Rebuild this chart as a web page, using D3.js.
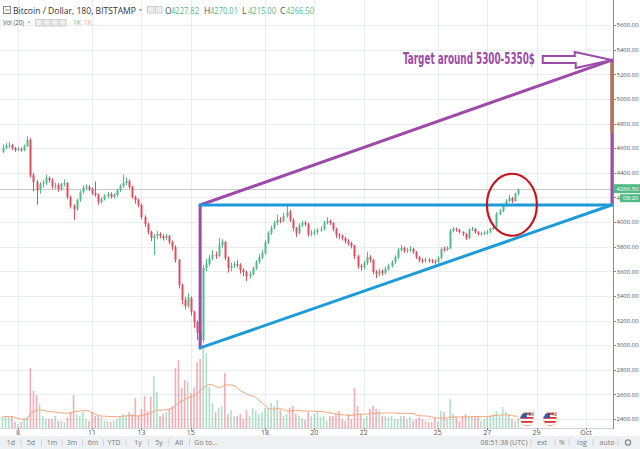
<!DOCTYPE html>
<html><head><meta charset="utf-8">
<script src="https://cdn.jsdelivr.net/npm/d3@7"></script>
<style>body{margin:0;background:#fff;} svg{display:block;font-family:"Open Sans",sans-serif;}</style>
</head><body><svg id="c" width="640" height="449"></svg>
<script>
// ---------- DATA ----------
const firstCandleUTC = Date.UTC(2017, 8, 7, 9); // 180-minute candles
const opens = [
4570,4600,4617,4625,4600,4584,4592,4584,4617,4666,
4381,4324,4259,4308,4316,4357,4341,4292,4300,4268,
4308,4316,4203,4130,4105,4178,4243,4276,4284,4268,
4235,4219,4162,4186,4211,4227,4203,4219,4259,4292,
4316,4333,4284,4203,4178,4138,4040,3983,3918,3870,
3886,3902,3886,3870,3886,3837,3797,3691,3488,3366,
3318,3383,3269,3188,3098,3041,3626,3659,3707,3732,
3725,3813,3837,3707,3626,3642,3659,3650,3610,3594,
3561,3577,3626,3675,3715,3748,3837,3910,3951,3992,
4016,4010,4048,4081,4016,3951,3910,3975,3992,3985,
3902,3910,3918,3935,3943,3992,4008,3992,3943,3894,
3886,3870,3845,3829,3805,3724,3642,3634,3667,3715,
3691,3594,3577,3602,3586,3618,3642,3675,3715,3772,
3789,3765,3772,3780,3756,3715,3691,3683,3695,3688,
3680,3675,3707,3780,3775,3789,3927,3943,3935,3918,
3902,3870,3935,3943,3918,3902,3908,3912,3920,3943,
3959,4065,4089,4130,4170,4195,4170,4227.82];
const highs = [
4630,4640,4650,4635,4610,4610,4605,4630,4695,4680,
4400,4340,4325,4340,4385,4370,4355,4320,4315,4320,
4345,4325,4215,4145,4190,4255,4300,4305,4300,4280,
4330,4230,4200,4225,4245,4240,4235,4270,4305,4385,
4360,4345,4295,4215,4190,4150,4055,3995,3930,3900,
3925,3915,3900,3905,3895,3850,3810,3700,3500,3390,
3420,3395,3280,3200,3110,3650,3700,3730,3770,3760,
3870,3860,3845,3720,3670,3680,3690,3665,3625,3605,
3600,3640,3690,3740,3770,3850,3925,3970,4010,4060,
4040,4075,4130,4100,4030,3960,3990,4010,4010,3995,
3935,3940,3950,3965,4010,4040,4020,4000,3955,3910,
3900,3880,3860,3840,3815,3735,3660,3685,3760,3730,
3700,3610,3620,3615,3635,3660,3690,3730,3790,3815,
3800,3790,3805,3790,3765,3725,3705,3710,3705,3700,
3695,3720,3795,3800,3805,3945,3960,3955,3945,3925,
3910,3950,3960,3950,3925,3920,3925,3935,3955,3975,
4080,4105,4145,4185,4220,4205,4240,4270.01];
const lows = [
4560,4590,4600,4585,4570,4575,4570,4575,4610,4360,
4250,4140,4230,4280,4300,4320,4270,4270,4245,4255,
4290,4185,4110,4016,4090,4165,4230,4260,4250,4220,
4205,4140,4150,4175,4195,4190,4190,4205,4245,4280,
4300,4270,4190,4150,4120,4020,3960,3900,3845,3730,
3860,3865,3850,3855,3820,3770,3670,3460,3330,3290,
3300,3240,3140,3040,2972,3020,3600,3640,3690,3700,
3715,3790,3690,3590,3600,3625,3630,3580,3560,3520,
3540,3565,3610,3660,3700,3735,3820,3895,3940,3975,
3990,4000,4035,4000,3925,3880,3900,3960,3965,3880,
3885,3890,3900,3920,3930,3980,3975,3925,3870,3860,
3850,3825,3810,3785,3700,3620,3605,3615,3650,3670,
3575,3545,3560,3565,3575,3605,3630,3660,3700,3760,
3750,3750,3755,3740,3700,3675,3665,3670,3670,3665,
3655,3660,3695,3760,3765,3780,3915,3920,3905,3885,
3855,3860,3925,3905,3890,3890,3895,3900,3910,3935,
3950,4055,4080,4120,4160,4155,4165,4215];
const closes = [
4600,4617,4625,4600,4584,4592,4584,4617,4666,4381,
4324,4259,4308,4316,4357,4341,4292,4300,4268,4308,
4316,4203,4130,4105,4178,4243,4276,4284,4268,4235,
4219,4162,4186,4211,4227,4203,4219,4259,4292,4316,
4333,4284,4203,4178,4138,4040,3983,3918,3870,3886,
3902,3886,3870,3886,3837,3797,3691,3488,3366,3318,
3383,3269,3188,3098,3041,3626,3659,3707,3732,3725,
3813,3837,3707,3626,3642,3659,3650,3610,3594,3561,
3577,3626,3675,3715,3748,3837,3910,3951,3992,4016,
4010,4048,4081,4016,3951,3910,3975,3992,3985,3902,
3910,3918,3935,3943,3992,4008,3992,3943,3894,3886,
3870,3845,3829,3805,3724,3642,3634,3667,3715,3691,
3594,3577,3602,3586,3618,3642,3675,3715,3772,3789,
3765,3772,3780,3756,3715,3691,3683,3695,3688,3680,
3675,3707,3780,3775,3789,3927,3943,3935,3918,3902,
3870,3935,3943,3918,3902,3908,3912,3920,3943,3959,
4065,4089,4130,4170,4195,4170,4227.82,4266.50];
const volumes = [
1100,1200,1100,1200,600,400,600,900,1100,6000,
3700,3300,2400,1200,900,900,900,1200,700,700,
600,1100,1600,3300,1400,1200,1600,900,700,1600,
1200,1200,1100,700,700,600,700,900,1200,1400,
1200,1600,1400,3000,1200,1900,3200,1700,3100,5200,
3600,1200,1400,1600,1900,2200,6000,6800,4000,4800,
4600,3500,4000,6600,6900,8000,7500,4100,2500,1600,
2000,2200,5500,1400,1800,1200,1200,1400,900,1800,
1200,2000,1700,1400,1600,2000,2000,2500,2200,2800,
1800,1200,1400,2000,2200,1400,1200,1000,800,1600,
1200,1400,1600,1100,1200,700,1200,1200,1400,1700,
900,700,1400,900,4000,2200,1400,900,1200,1900,
2200,1900,1700,1200,1200,1100,1200,900,900,1200,
1200,900,1100,700,900,1100,900,700,600,600,
1100,700,1700,1600,900,2900,1400,1100,700,1200,
1400,1100,1200,1100,1100,700,900,1100,1200,1400,
1700,1200,2100,1600,1400,900,700,1000];
const priceTicks = [2400,2600,2800,3000,3200,3400,3600,3800,4000,4200,4400,4600,4800,5000,5200,5400,5600];
const dayTickDates = ["2017-09-08","2017-09-11","2017-09-13","2017-09-15","2017-09-18","2017-09-20","2017-09-22","2017-09-25","2017-09-27","2017-09-29","2017-10-01"];
const dayTickLabels = ["8","11","13","15","18","20","22","25","27","29","Oct"];
// annotation (drawn by the author) in data coordinates
const patternStart = "2017-09-15T09:00Z", patternApex = "2017-10-02T01:00Z";
const supportLow = 2977, resistance = 4138, targetLevel = 5315;
const eventFlags = [{t:"2017-09-28T14:30Z", n:"36"},{t:"2017-09-29T13:00Z", n:"16"}];
const rangeButtons = ["1d","5d","1m","3m","6m","YTD","1y","5y","All","Go to..."];

// ---------- CHART ----------
const svg = d3.select("#c");
const plotRight = 613, plotBottom = 428;
const up = "#53b987", down = "#e54c5e";
const x = d3.scaleUtc().domain([new Date("2017-09-08T00:00Z"), new Date("2017-10-01T00:00Z")]).range([18, 586]);
const y = d3.scaleLinear().domain([2400, 5600]).range([419, 25]);
const yv = d3.scaleLinear().domain([0, 9000]).range([plotBottom, 338]);

const candles = closes.map((c, i) => ({
  t: new Date(firstCandleUTC + i * 3 * 3600e3), o: opens[i], h: highs[i], l: lows[i], c, v: volumes[i]
}));

svg.append("rect").attr("width", 640).attr("height", 449).attr("fill", "#fff");
const defs = svg.append("defs");
defs.append("clipPath").attr("id", "plot").append("rect").attr("width", plotRight).attr("height", plotBottom);

const g = svg.append("g").attr("clip-path", "url(#plot)");
g.selectAll(".hg").data(priceTicks).join("line")
  .attr("x1", 0).attr("x2", plotRight)
  .attr("y1", d => Math.round(y(d)) + 0.5).attr("y2", d => Math.round(y(d)) + 0.5)
  .attr("stroke", "#e9edf0");
g.selectAll(".vg").data(dayTickDates).join("line")
  .attr("x1", d => Math.round(x(new Date(d))) + 0.5).attr("x2", d => Math.round(x(new Date(d))) + 0.5)
  .attr("y1", 0).attr("y2", plotBottom).attr("stroke", "#e9edf0");

const last = candles[candles.length - 1];
g.append("line").attr("x1", 0).attr("x2", plotRight)
  .attr("y1", Math.round(y(last.c)) + 0.5).attr("y2", Math.round(y(last.c)) + 0.5)
  .attr("stroke", "#c8c8c8");

// volume
g.selectAll(".vol").data(candles).join("rect")
  .attr("x", d => x(d.t) - 0.8).attr("width", 1.6)
  .attr("y", d => yv(d.v)).attr("height", d => plotBottom - yv(d.v))
  .attr("fill", d => d.c >= d.o ? up : down).attr("opacity", 0.45);
const ma = candles.map((d, i) => {
  const s = candles.slice(Math.max(0, i - 19), i + 1);
  return { t: d.t, v: d3.mean(s, e => e.v) };
});
g.append("path").datum(ma).attr("fill", "none").attr("stroke", "#f2a77a").attr("stroke-width", 1)
  .attr("d", d3.line().x(d => x(d.t)).y(d => yv(d.v)));

// candles
const cg = g.append("g");
cg.selectAll(".wick").data(candles).join("line")
  .attr("x1", d => Math.round(x(d.t)) + 0.5).attr("x2", d => Math.round(x(d.t)) + 0.5)
  .attr("y1", d => y(d.h)).attr("y2", d => y(d.l))
  .attr("stroke", d => d.c >= d.o ? up : down).attr("stroke-width", 1);
cg.selectAll(".body").data(candles).join("rect")
  .attr("x", d => Math.round(x(d.t)) - 0.5).attr("width", 2)
  .attr("y", d => y(Math.max(d.o, d.c)))
  .attr("height", d => Math.max(1, Math.abs(y(d.o) - y(d.c))))
  .attr("fill", d => d.c >= d.o ? up : down);

// ---------- ANNOTATIONS ----------
const purple = "#9d4aa8", blue = "#1d9bd8";
const t0 = new Date(patternStart), t1 = new Date(patternApex);
const ag = svg.append("g").attr("fill", "none").attr("stroke-linecap", "round");
ag.append("line").attr("x1", x(t0)).attr("y1", y(supportLow)).attr("x2", x(t0)).attr("y2", y(resistance))
  .attr("stroke", purple).attr("stroke-width", 3);
ag.append("line").attr("x1", x(t0)).attr("y1", y(resistance)).attr("x2", x(t1)).attr("y2", y(targetLevel))
  .attr("stroke", purple).attr("stroke-width", 3);
ag.append("line").attr("x1", x(t1)).attr("y1", y(targetLevel)).attr("x2", x(t1)).attr("y2", y(resistance))
  .attr("stroke", purple).attr("stroke-width", 2.5);
ag.append("line").attr("x1", x(t1)).attr("y1", y(targetLevel - 20)).attr("x2", x(t1)).attr("y2", y(4720))
  .attr("stroke", "#b8744e").attr("stroke-width", 2.5).attr("stroke-linecap", "butt");
ag.append("line").attr("x1", x(t0)).attr("y1", y(resistance)).attr("x2", x(t1)).attr("y2", y(resistance))
  .attr("stroke", blue).attr("stroke-width", 3);
ag.append("line").attr("x1", x(t0)).attr("y1", y(supportLow)).attr("x2", x(t1)).attr("y2", y(resistance))
  .attr("stroke", blue).attr("stroke-width", 3);

ag.append("ellipse").attr("cx", x(new Date("2017-09-28T00:00Z"))).attr("cy", y(4140))
  .attr("rx", 25).attr("ry", 31).attr("stroke", "#c8141e").attr("stroke-width", 2.2);

const tipX = x(t1), tipY = y(targetLevel);
const arrow = [[tipX - 69, tipY - 4], [tipX - 37, tipY - 4], [tipX - 37, tipY - 8], [tipX, tipY],
               [tipX - 36, tipY + 8], [tipX - 36, tipY + 3], [tipX - 69, tipY + 3]];
ag.append("path").attr("d", d3.line()(arrow) + "Z").attr("fill", "#fff")
  .attr("stroke", purple).attr("stroke-width", 2).attr("stroke-linejoin", "miter");
svg.append("text").attr("x", 403).attr("y", tipY + 4)
  .attr("font-family", "'Liberation Sans Narrow', 'DejaVu Sans Condensed', sans-serif")
  .attr("font-weight", "bold").attr("font-size", 15).attr("fill", purple)
  .attr("textLength", 132).attr("lengthAdjust", "spacingAndGlyphs")
  .text("Target around 5300-5350$");

// event flags
eventFlags.forEach((f, k) => {
  const cx = x(new Date(f.t)), cy = 419;
  const id = "fl" + k;
  defs.append("clipPath").attr("id", id).append("circle").attr("cx", cx).attr("cy", cy).attr("r", 6.5);
  const fg = svg.append("g");
  fg.append("circle").attr("cx", cx).attr("cy", cy).attr("r", 7.5).attr("fill", "#f7d9a8");
  const inner = fg.append("g").attr("clip-path", `url(#${id})`);
  inner.append("rect").attr("x", cx - 7).attr("y", cy - 7).attr("width", 14).attr("height", 14).attr("fill", "#fff");
  [0, 2, 4, 6].forEach(s => inner.append("rect").attr("x", cx - 7).attr("y", cy - 6 + s * 2).attr("width", 14).attr("height", 1.8).attr("fill", "#d8303a"));
  inner.append("rect").attr("x", cx - 7).attr("y", cy - 7).attr("width", 7).attr("height", 6).attr("fill", "#3b5aa8");
  fg.append("text").attr("x", cx + 1.5).attr("y", cy - 3).attr("font-size", 5).attr("fill", "#333").text(f.n);
});

// ---------- AXES ----------
const axisColor = "#8a8a8a", textColor = "#555";
svg.append("line").attr("x1", plotRight + 0.5).attr("x2", plotRight + 0.5).attr("y1", 0).attr("y2", plotBottom + 1).attr("stroke", axisColor);
svg.append("line").attr("x1", 0).attr("x2", plotRight).attr("y1", plotBottom + 0.5).attr("y2", plotBottom + 0.5).attr("stroke", "#cfd4d8");
const ya = svg.append("g");
ya.selectAll("line").data(priceTicks).join("line")
  .attr("x1", plotRight).attr("x2", plotRight + 3)
  .attr("y1", d => Math.round(y(d)) + 0.5).attr("y2", d => Math.round(y(d)) + 0.5).attr("stroke", axisColor);
ya.selectAll("text").data(priceTicks).join("text")
  .attr("x", 616.5).attr("y", d => y(d) + 2.3).attr("font-size", 6).attr("fill", textColor)
  .text(d => d3.format(".2f")(d));
const xa = svg.append("g");
xa.selectAll("line").data(dayTickDates).join("line")
  .attr("x1", d => Math.round(x(new Date(d))) + 0.5).attr("x2", d => Math.round(x(new Date(d))) + 0.5)
  .attr("y1", plotBottom).attr("y2", plotBottom + 2).attr("stroke", axisColor);
xa.selectAll("text").data(dayTickDates).join("text")
  .attr("x", d => x(new Date(d))).attr("y", 435).attr("text-anchor", "middle")
  .attr("font-size", 7).attr("fill", textColor)
  .text((d, i) => dayTickLabels[i]);

// price labels
svg.append("rect").attr("x", 614).attr("y", y(last.c) - 5).attr("width", 26).attr("height", 9).attr("fill", up);
svg.append("text").attr("x", 616.5).attr("y", y(last.c) + 2).attr("font-size", 6).attr("fill", "#fff")
  .text(d3.format(".2f")(last.c));
svg.append("rect").attr("x", 620).attr("y", y(last.c) + 5).attr("width", 20).attr("height", 8).attr("fill", up);
svg.append("text").attr("x", 623).attr("y", y(last.c) + 11.2).attr("font-size", 6).attr("fill", "#fff")
  .text("08:20");

// ---------- HEADER ----------
const hg = svg.append("g").attr("font-size", 9);
hg.append("rect").attr("x", 3.5).attr("y", 6.5).attr("width", 7).attr("height", 7).attr("fill", "#fff").attr("stroke", "#888");
hg.append("line").attr("x1", 5).attr("x2", 9.5).attr("y1", 10).attr("y2", 10).attr("stroke", "#888");
hg.append("text").attr("x", 13).attr("y", 13.5).attr("fill", "#333").attr("textLength", 123).attr("lengthAdjust", "spacingAndGlyphs")
  .text("Bitcoin / Dollar, 180, BITSTAMP");
hg.append("path").attr("d", "M138.5,9 L142.5,9 L140.5,11.5 Z").attr("fill", "#aaa");
[147, 155].forEach(bx => hg.append("rect").attr("x", bx + 0.5).attr("y", 6.5).attr("width", 6.5).attr("height", 6.5).attr("fill", "#eee").attr("stroke", "#ccc"));
const ohlc = [["O", last.o, 165], ["H", last.h, 204], ["L", last.l, 242], ["C", last.c, 280]];
ohlc.forEach(([k, v, px]) => {
  hg.append("text").attr("x", px).attr("y", 13.5).attr("fill", "#555").attr("font-size", 8.5).text(k);
  hg.append("text").attr("x", px + 6).attr("y", 13.5).attr("fill", up).attr("font-size", 8.5)
    .attr("textLength", 28).attr("lengthAdjust", "spacingAndGlyphs").text(d3.format(".2f")(v));
});
const vg2 = svg.append("g").attr("font-size", 6.5);
vg2.append("text").attr("x", 3).attr("y", 25).attr("fill", "#555").attr("textLength", 21).attr("lengthAdjust", "spacingAndGlyphs").text("Vol (20)");
vg2.append("path").attr("d", "M27.5,21.5 L30.5,21.5 L29,23.5 Z").attr("fill", "#aaa");
[35, 43, 51, 59].forEach(bx => vg2.append("rect").attr("x", bx + 0.5).attr("y", 19.5).attr("width", 6.5).attr("height", 6.5).attr("fill", "#eee").attr("stroke", "#ccc"));
vg2.append("text").attr("x", 73).attr("y", 25).attr("fill", up).text("1K");
vg2.append("text").attr("x", 84).attr("y", 25).attr("fill", "#f2a77a").text("1K");

// ---------- TOOLBAR ----------
const tb = svg.append("g").attr("font-size", 7).attr("fill", "#7a7a7a");
tb.append("rect").attr("x", 0).attr("y", 436).attr("width", 640).attr("height", 13).attr("fill", "#eef1f3");
const btnX = [11, 31, 52, 72, 93, 114, 138, 159, 179, 206];
rangeButtons.forEach((b, i) => {
  tb.append("text").attr("x", btnX[i]).attr("y", 445).attr("text-anchor", "middle").text(b);
  if (i < rangeButtons.length - 1) {
    const sx = (btnX[i] + btnX[i + 1]) / 2 + (i === 8 ? -3 : 0);
    tb.append("line").attr("x1", sx).attr("x2", sx).attr("y1", 439).attr("y2", 446).attr("stroke", "#cfd4d8");
  }
});
const rightItems = [["08:51:38 (UTC)", 504], ["ext", 542], ["%", 562], ["log", 582], ["auto", 607]];
rightItems.forEach(([t, px]) => tb.append("text").attr("x", px).attr("y", 445).attr("text-anchor", "middle").text(t));
[531, 555, 569, 593, 618].forEach(sx => tb.append("line").attr("x1", sx).attr("x2", sx).attr("y1", 439).attr("y2", 446).attr("stroke", "#cfd4d8"));
tb.append("circle").attr("cx", 628).attr("cy", 442.5).attr("r", 2.6).attr("fill", "none").attr("stroke", "#888").attr("stroke-width", 1.2);
</script></body></html>
